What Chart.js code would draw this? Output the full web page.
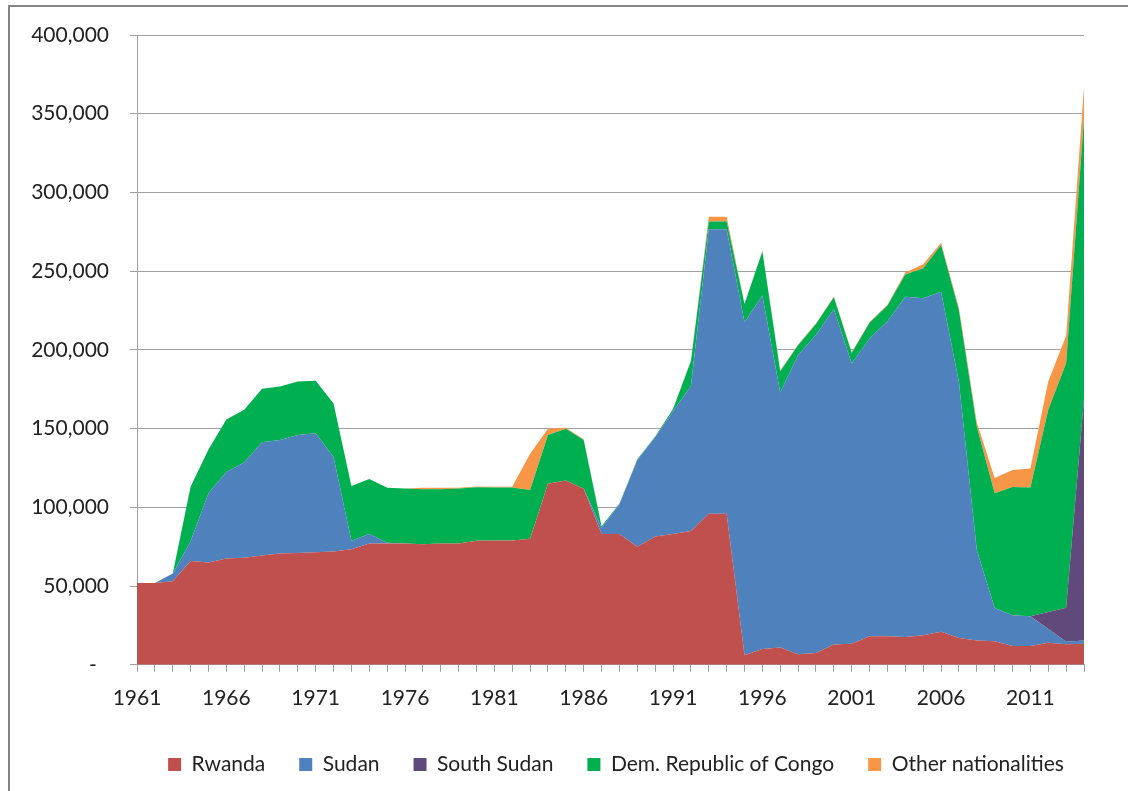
<!DOCTYPE html>
<html>
<head>
<meta charset="utf-8">
<script src="https://cdn.jsdelivr.net/npm/chart.js@4.4.1/dist/chart.umd.min.js"></script>
<style>
  html, body { margin: 0; padding: 0; background: #ffffff; overflow: hidden; }
  #frame { position: absolute; left: 8px; top: 5px; width: 1300px; height: 1000px; border: 2px solid #868686; box-sizing: border-box; }
  #wrap { position: absolute; left: 0; top: 0; width: 1128px; height: 791px; }
</style>
</head>
<body>
<div id="frame"></div>
<div id="wrap"><canvas id="c" width="1128" height="791"></canvas></div>
<script>
const years = [];
for (let y = 1961; y <= 2014; y++) years.push(String(y));

const rwanda = [52, 52, 53, 66, 65, 67.5, 68, 69.4, 70.7, 71, 71.5, 72, 73.4, 77, 77, 77, 76.5, 77, 77, 78.8,
  79, 79, 80, 115, 117, 111.8, 83, 83, 75, 81.5, 83, 85, 96, 96, 6, 10, 11, 6.7, 7.5, 12.9,
  13.4, 18.2, 18.2, 17.7, 18.8, 21, 17, 15.5, 15, 12, 12, 14, 13, 13.4];
const sudan = [0, 0, 5, 12.5, 44, 55, 60.5, 72, 72, 75, 75.5, 60, 5.4, 6, 0.5, 0, 0, 0, 0, 0,
  0, 0, 0, 0, 0, 0, 4, 19, 55, 63, 78, 92, 180.6, 180.6, 211.6, 224.5, 162, 190, 202, 213,
  178, 189, 200, 216, 214, 216, 162.6, 57.4, 21, 19.4, 18.8, 8.8, 1.7, 2];
const southSudan = [0, 0, 0, 0, 0, 0, 0, 0, 0, 0, 0, 0, 0, 0, 0, 0, 0, 0, 0, 0,
  0, 0, 0, 0, 0, 0, 0, 0, 0, 0, 0, 0, 0, 0, 0, 0, 0, 0, 0, 0,
  0, 0, 0, 0, 0, 0, 0, 0, 0, 0, 0, 10.7, 21.5, 153.7];
const drc = [0, 0, 0, 34.6, 27.7, 33.3, 33.5, 34, 34, 34, 33.4, 34, 34.8, 35, 35, 35, 35, 34.5, 35, 34,
  33.6, 33.6, 31, 31, 33, 31, 1, 0.5, 0.5, 0.5, 1.5, 16, 5, 5, 11.5, 28, 13.4, 6.2, 7, 7.5,
  6.7, 10, 10, 14.2, 19, 29.7, 45.6, 78.5, 73, 81.6, 81.8, 128.5, 155.4, 178];
const other = [0, 0, 0, 0, 0, 0, 0, 0, 0, 0, 0, 0, 0, 0, 0, 0, 1, 1, 0.5, 0.5,
  0.5, 0.5, 23, 4, 0.5, 0.5, 0, 0, 0, 0, 0, 0, 3, 3, 0, 0.5, 0.5, 0.5, 0.5, 0.5,
  0.5, 0.5, 0.5, 1.3, 2.6, 1.3, 1.4, 2.6, 9.7, 10.8, 12, 18, 17.4, 20];

const seriesNames = ['Rwanda', 'Sudan', 'South Sudan', 'Dem. Republic of Congo', 'Other nationalities'];
const seriesValues = [rwanda, sudan, southSudan, drc, other];
const seriesColors = ['#C0504D', '#4F81BD', '#604A7B', '#00B050', '#F79646'];
const yTicks = [0, 50000, 100000, 150000, 200000, 250000, 300000, 350000, 400000];

const FONT = 'Lato';
const TXT = '#222222';
const GRID = '#a0a0a0';

const datasets = seriesNames.map((name, i) => ({
  label: name,
  data: seriesValues[i].map(v => v * 1000),
  backgroundColor: seriesColors[i],
  borderColor: seriesColors[i],
  borderWidth: 0,
  pointRadius: 0,
  tension: 0,
  fill: i === 0 ? 'origin' : '-1'
}));

const shiftLegend = {
  id: 'shiftLegend',
  afterLayout(chart) {
    const l = chart.legend;
    if (!l) return;
    l.left += 74; l.right += 74;
    l.top -= 5; l.bottom -= 5;
  }
};

new Chart(document.getElementById('c'), {
  type: 'line',
  data: { labels: years, datasets },
  plugins: [shiftLegend],
  options: {
    responsive: false,
    animation: false,
    layout: { padding: { left: 0, right: 44, top: 35, bottom: 1 } },
    plugins: {
      tooltip: { enabled: false },
      legend: {
        position: 'bottom',
        labels: {
          boxWidth: 13, boxHeight: 13, padding: 34,
          color: TXT,
          font: { family: FONT, size: 21 }
        }
      }
    },
    scales: {
      x: {
        offset: false,
        grid: { display: true, drawOnChartArea: false, drawTicks: true, tickLength: 7, color: GRID },
        border: { display: true, color: GRID },
        ticks: {
          autoSkip: false, maxRotation: 0, padding: 14, color: TXT,
          font: { family: FONT, size: 21 },
          callback: function(v, i) { return (i % 5 === 0) ? years[i] : ''; }
        }
      },
      y: {
        stacked: true,
        min: 0, max: 400000,
        afterFit: s => { s.width = 137; },
        afterBuildTicks: s => { s.ticks = yTicks.map(v => ({ value: v })); },
        grid: { color: GRID, tickLength: 7, drawTicks: true },
        border: { display: true, color: GRID },
        ticks: {
          padding: 21, color: TXT,
          font: { family: FONT, size: 21 },
          callback: v => v === 0 ? '-\u2007' : v.toLocaleString('en-US')
        }
      }
    }
  }
});
</script>
</body>
</html>
